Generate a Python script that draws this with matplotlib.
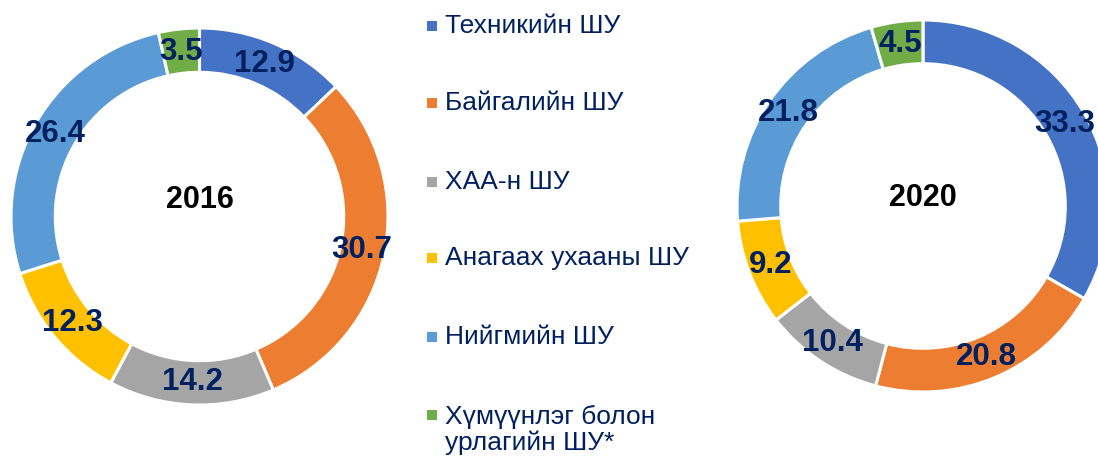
import matplotlib.pyplot as plt
from matplotlib.patches import Rectangle

plt.rcParams["font.family"] = ["Liberation Sans", "DejaVu Sans"]

categories = ["Техникийн ШУ", "Байгалийн ШУ", "ХАА-н ШУ",
              "Анагаах ухааны ШУ", "Нийгмийн ШУ", "Хүмүүнлэг болон\nурлагийн ШУ*"]
values_2016 = [12.9, 30.7, 14.2, 12.3, 26.4, 3.5]
values_2020 = [33.3, 20.8, 10.4, 9.2, 21.8, 4.5]
years = ["2016", "2020"]

colors = ["#4472C4", "#ED7D31", "#A5A5A5", "#FFC000", "#5B9BD5", "#70AD47"]
NAVY = "#002060"

W, H = 1098, 458
fig = plt.figure(figsize=(W / 100, H / 100), dpi=100)


def donut(cx, cy, r, vals, year, year_dy):
    ax = fig.add_axes([(cx - r) / W, (H - cy - r) / H, 2 * r / W, 2 * r / H])
    ax.pie(vals, colors=colors, startangle=90, counterclock=False,
           radius=1.0, autopct="%.1f", pctdistance=0.88,
           wedgeprops=dict(width=0.235, edgecolor="white", linewidth=2.2),
           textprops=dict(color=NAVY, fontsize=22.5, fontweight="bold"))
    ax.set_xlim(-1, 1)
    ax.set_ylim(-1, 1)
    ax.set_aspect("equal")
    ax.axis("off")
    ax.text(0, year_dy, year, ha="center", va="center",
            fontsize=22, fontweight="bold", color="black")
    return ax


donut(199.5, 216.5, 188.5, values_2016, years[0], 0.085)
donut(923, 206, 186, values_2020, years[1], 0.045)

# legend, drawn by hand to keep the wide row spacing
row_y = [26, 103, 182, 258, 337, 415]
for name, col, y in zip(categories, colors, row_y):
    fig.patches.append(Rectangle((427 / W, (H - y - 5) / H), 10 / W, 10 / H,
                                 transform=fig.transFigure, facecolor=col,
                                 edgecolor="none"))
    ty = y + 15 if "\n" in name else y
    fig.text(445 / W, (H - ty) / H, name, ha="left", va="center",
             fontsize=19, color=NAVY, linespacing=1.06)

fig.savefig("out.png", dpi=100)
